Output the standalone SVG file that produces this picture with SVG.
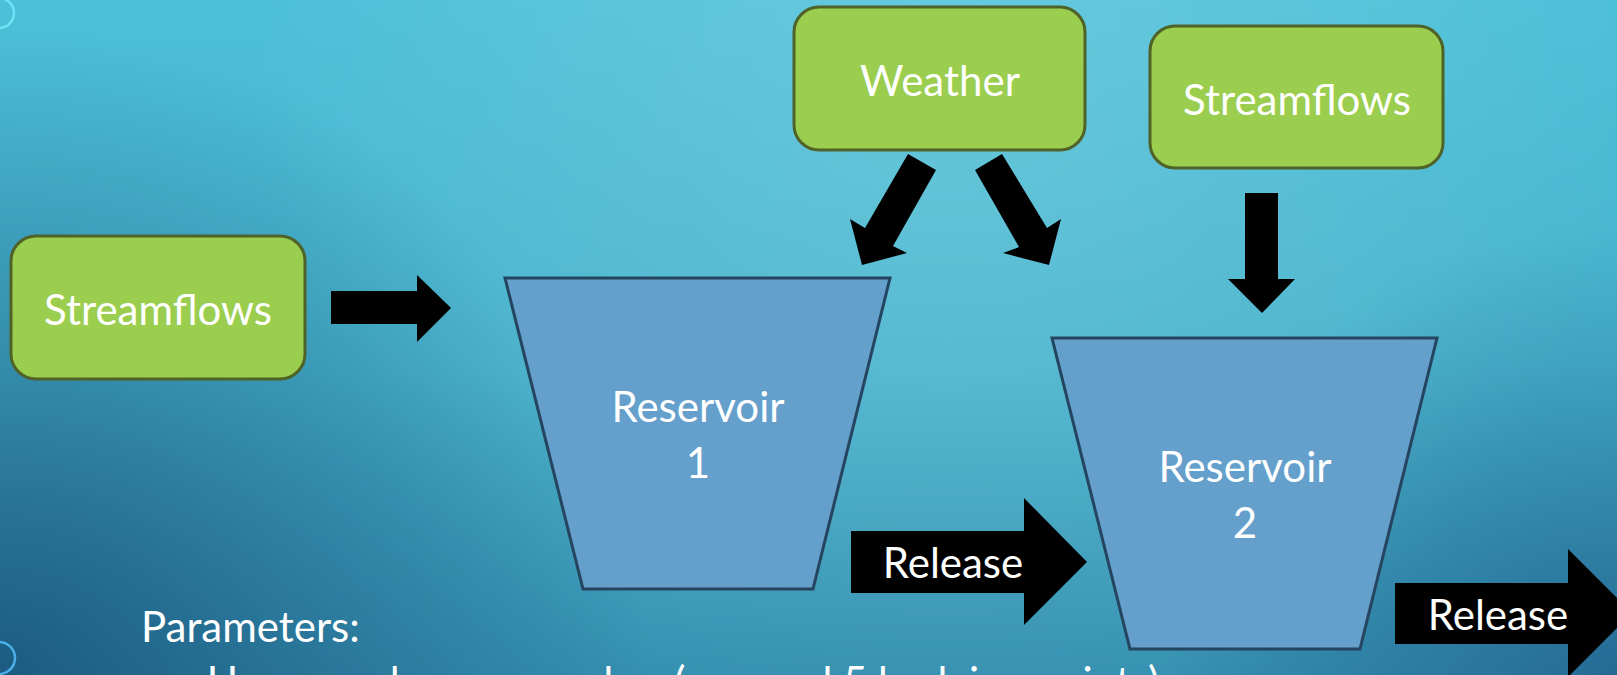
<svg xmlns="http://www.w3.org/2000/svg" width="1617" height="675" viewBox="0 0 1617 675">
  <defs>
    <linearGradient id="bg" x1="0" y1="0" x2="0" y2="1">
      <stop offset="0" stop-color="#4cc0d8"/>
      <stop offset="0.55" stop-color="#47b3cc"/>
      <stop offset="1" stop-color="#3590b0"/>
    </linearGradient>
    <radialGradient id="hl" cx="950" cy="60" r="700" gradientUnits="userSpaceOnUse">
      <stop offset="0" stop-color="#ffffff" stop-opacity="0.16"/>
      <stop offset="1" stop-color="#ffffff" stop-opacity="0"/>
    </radialGradient>
    <radialGradient id="dk1" cx="0" cy="675" r="650" gradientUnits="userSpaceOnUse">
      <stop offset="0" stop-color="#0f3f6a" stop-opacity="0.65"/>
      <stop offset="1" stop-color="#0f3f6a" stop-opacity="0"/>
    </radialGradient>
    <radialGradient id="dk2" cx="1617" cy="675" r="450" gradientUnits="userSpaceOnUse">
      <stop offset="0" stop-color="#15467a" stop-opacity="0.5"/>
      <stop offset="1" stop-color="#15467a" stop-opacity="0"/>
    </radialGradient>
    <style>
      .box { fill: #9bce4e; stroke: #4f6228; stroke-width: 3; }
      .res { fill: #64a0cb; stroke: #25445f; stroke-width: 3; stroke-linejoin: miter; }
      .arrow { fill: #000000; }
      .t { font-family: Lato, "Open Sans", "Liberation Sans", sans-serif; font-size: 42px; fill: #ffffff; }
      .c { text-anchor: middle; }
    </style>
  </defs>

  <rect x="0" y="0" width="1617" height="675" fill="url(#bg)"/>
  <rect x="0" y="0" width="1617" height="675" fill="url(#hl)"/>
  <rect x="0" y="0" width="1617" height="675" fill="url(#dk1)"/>
  <rect x="0" y="0" width="1617" height="675" fill="url(#dk2)"/>

  <circle cx="-1" cy="13" r="15" fill="none" stroke="#6fe2f6" stroke-width="2.5"/>
  <circle cx="-1" cy="658" r="16" fill="none" stroke="#4bb0e8" stroke-width="2.5"/>

  <g id="connectors">
    <polygon class="arrow" points="331,291 417,291 417,275 451,308 417,342 417,324 331,324"/>
    <polygon class="arrow" points="908,154 936,170 893,246 907,253 862,265 850,219 865,228"/>
    <polygon class="arrow" points="1002,154 975,170 1019,247 1003,253 1049,265 1061,219 1047,228"/>
    <polygon class="arrow" points="1245,193 1278,193 1278,279 1295,279 1262,313 1228,279 1245,279"/>
    <g id="release1">
      <polygon class="arrow" points="851,531 1024,531 1024,498 1087,562 1024,625 1024,593 851,593"/>
      <text class="t c" x="953" y="578">Release</text>
    </g>
    <g id="release2">
      <polygon class="arrow" points="1395,583 1568,583 1568,549 1632,613 1568,677 1568,644 1395,644"/>
      <text class="t c" x="1498" y="630">Release</text>
    </g>
  </g>

  <g id="streamflows1">
    <rect class="box" x="11" y="236" width="294" height="143" rx="25" ry="25"/>
    <text class="t c" x="158" y="325">Streamflows</text>
  </g>

  <g id="weather">
    <rect class="box" x="794" y="7" width="291" height="143" rx="25" ry="25"/>
    <text class="t c" x="940" y="96">Weather</text>
  </g>

  <g id="streamflows2">
    <rect class="box" x="1150" y="26" width="293" height="142" rx="25" ry="25"/>
    <text class="t c" x="1297" y="115">Streamflows</text>
  </g>

  <g id="reservoir1">
    <polygon class="res" points="505,278 890,278 813,589 583,589"/>
    <text class="t c" x="698" y="422">Reservoir</text>
    <text class="t c" x="698" y="478">1</text>
  </g>

  <g id="reservoir2">
    <polygon class="res" points="1052,338 1437,338 1360,649 1130,649"/>
    <text class="t c" x="1245" y="482">Reservoir</text>
    <text class="t c" x="1245" y="538">2</text>
  </g>

  <g id="parameters">
    <text class="t" x="141" y="642">Parameters:</text>
    <text class="t" x="207" y="697">Upper and mean number (one and 5 hedging points)</text>
  </g>
</svg>
